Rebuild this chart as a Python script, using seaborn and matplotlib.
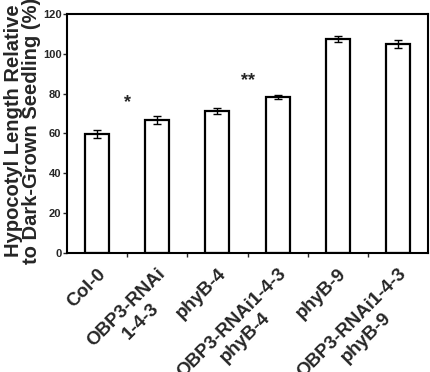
import numpy as np
import pandas as pd
import seaborn as sns
import matplotlib.pyplot as plt

# data
genotypes = ["Col-0", "OBP3-RNAi\n1-4-3", "phyB-4", "OBP3-RNAi1-4-3\nphyB-4",
             "phyB-9", "OBP3-RNAi1-4-3\nphyB-9"]
hypocotyl_pct = [59.7, 66.8, 71.1, 78.5, 107.4, 104.9]
hypocotyl_err = [2.0, 2.0, 1.5, 1.0, 1.4, 1.8]
star_pos = [0.5, 2.5]
star_y = [75.5, 86.5]
star_text = ["*", "**"]

sns.set_style("ticks")
plt.rcParams["font.family"] = ["Liberation Sans", "DejaVu Sans"]
plt.rcParams["font.weight"] = "bold"

df = pd.DataFrame({"genotype": genotypes, "value": hypocotyl_pct})

fig = plt.figure(figsize=(4.31, 3.72), dpi=100)
ax = fig.add_axes([0.1555, 0.3199, 0.8375, 0.6425])

sns.barplot(data=df, x="genotype", y="value", color="white", edgecolor="black",
            linewidth=1.6, width=0.4, errorbar=None, ax=ax)
for p in ax.patches:
    p.set_facecolor("white")

xs = np.arange(len(genotypes))
ax.errorbar(xs, hypocotyl_pct, yerr=hypocotyl_err, fmt="none", ecolor="black",
            elinewidth=1.0, capsize=3, capthick=1.0)

for x, y, s in zip(star_pos, star_y, star_text):
    ax.text(x, y, s, ha="center", va="center", fontsize=13, fontweight="bold")

ax.set_xlim(-0.5, len(genotypes) - 0.5)
ax.set_ylim(0, 120)
ax.set_yticks(np.arange(0, 121, 20))
ax.tick_params(axis="y", labelsize=8, length=3, width=1, pad=1, direction="out")
for lab in ax.get_yticklabels():
    lab.set_fontweight("bold")

# labels at bar centres, little ticks between groups
ax.set_xticks(xs)
ax.set_xticklabels(genotypes)
ax.set_xticks(xs[:-1] + 0.5, minor=True)
ax.tick_params(axis="x", which="major", length=0, pad=9)
ax.tick_params(axis="x", which="minor", length=3, width=1, direction="out")
for lab in ax.get_xticklabels():
    lab.set_rotation(45)
    lab.set_ha("right")
    lab.set_va("top")
    lab.set_rotation_mode("anchor")
    lab.set_multialignment("center")
    lab.set_fontsize(13.5)
    lab.set_fontweight("bold")

ax.set_xlabel("")
ax.set_ylabel("Hypocotyl Length Relative\nto Dark-Grown Seedling (%)",
              fontsize=14.5, fontweight="bold", linespacing=0.95)
ax.yaxis.set_label_coords(-0.072, 0.51)

for sp in ax.spines.values():
    sp.set_visible(True)
    sp.set_linewidth(1.5)
    sp.set_color("black")

plt.savefig("out.png", dpi=100)
